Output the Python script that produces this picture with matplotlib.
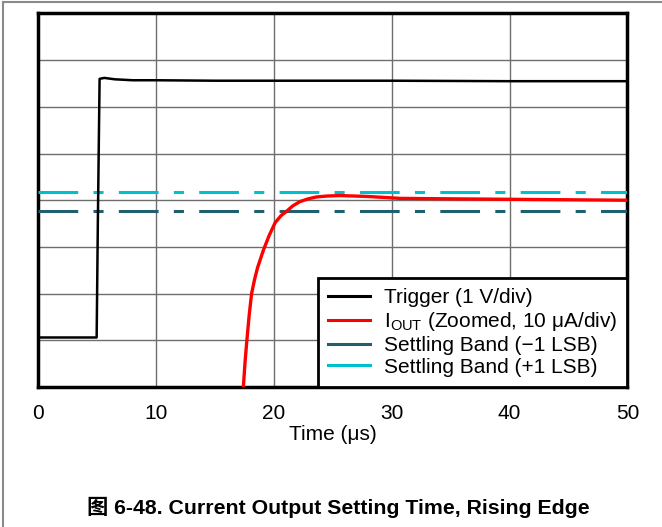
import matplotlib
matplotlib.use("Agg")
import matplotlib.pyplot as plt
from matplotlib.lines import Line2D

plt.rcParams['font.family'] = ['Liberation Sans', 'Noto Sans CJK SC', 'DejaVu Sans']
plt.rcParams['mathtext.fontset'] = 'custom'
plt.rcParams['mathtext.rm'] = 'Liberation Sans'

# Trigger trace (y in divisions, 0..8)
trig_t = [0, 2, 4, 4.95, 5.05, 5.2, 5.6, 6.5, 8, 10, 15, 20, 30, 40, 50]
trig_v = [1.06, 1.06, 1.06, 1.06, 3.5, 6.60, 6.62, 6.59, 6.57, 6.57, 6.56, 6.56, 6.56, 6.55, 6.55]

# IOUT zoomed trace (y in divisions)
iout_t = [17.3, 17.4, 17.55, 17.7, 17.9, 18.1, 18.35, 18.6, 19.1, 19.6, 20.1, 20.6, 21.1,
          21.6, 22.2, 22.9, 23.6, 24.5, 25.6, 28, 30.7, 35, 40, 45, 50]
iout_v = [-0.4, 0.0, 0.55, 1.0, 1.55, 2.0, 2.3, 2.55, 2.93, 3.25, 3.52, 3.67, 3.77,
          3.88, 3.97, 4.03, 4.07, 4.09, 4.10, 4.08, 4.04, 4.03, 4.02, 4.01, 4.00]

band_lo = 3.78
band_hi = 4.18

x_ticks = [0, 10, 20, 30, 40, 50]
y_grid = [0, 1, 2, 3, 4, 5, 6, 7, 8]

fs = 15

fig = plt.figure(figsize=(6.62, 5.27), dpi=100)
ax = fig.add_axes([0.0579, 0.2657, 0.8899, 0.7087])

ax.set_xlim(0, 50)
ax.set_ylim(0, 8)
ax.set_xticks(x_ticks)
ax.set_yticks(y_grid)
ax.set_yticklabels([])
ax.tick_params(length=0, labelsize=fs, pad=12)
ax.grid(True, color='#6e6e6e', linewidth=1.0)
for s in ax.spines.values():
    s.set_linewidth(2.5)
    s.set_color('black')

dash = (0, (13, 5, 3.3, 5))
ax.plot(trig_t, trig_v, color='black', lw=1.8, zorder=5)
ax.plot(iout_t, iout_v, color='#ff0000', lw=2.4, zorder=5)
ax.axhline(band_lo, color='#1f5f70', lw=2.2, ls=dash, zorder=4)
ax.axhline(band_hi, color='#00c0d0', lw=2.2, ls=dash, zorder=4)

handles = [Line2D([], [], color='black', lw=2.2),
           Line2D([], [], color='#ff0000', lw=2.2),
           Line2D([], [], color='#1f5f70', lw=2.2),
           Line2D([], [], color='#00c0d0', lw=2.2)]
labels = ['Trigger (1 V/div)', 'I$_{\\mathrm{OUT}}$ (Zoomed, 10 μA/div)',
          'Settling Band (−1 LSB)', 'Settling Band (+1 LSB)']
leg = ax.legend(handles, labels, loc='lower right', borderaxespad=0, fancybox=False,
                fontsize=fs, handlelength=2.0, handletextpad=0.65, labelspacing=0.13,
                borderpad=0.5, framealpha=1)
leg.get_frame().set_edgecolor('black')
leg.get_frame().set_linewidth(2.0)
leg.set_zorder(10)

ax.set_xlabel('Time (μs)', fontsize=fs, labelpad=2)

fig.text(0.5106, 0.038, '图 6-48. Current Output Setting Time, Rising Edge',
         ha='center', va='center', fontsize=15.3, fontweight='bold')

# outer page frame (top and left edges)
fig.add_artist(Line2D([0.004, 0.004], [0, 0.997], transform=fig.transFigure,
                      color='#8a8a8a', lw=1.5))
fig.add_artist(Line2D([0.004, 1.0], [0.997, 0.997], transform=fig.transFigure,
                      color='#8a8a8a', lw=1.5))

fig.savefig('out.png', dpi=100)
